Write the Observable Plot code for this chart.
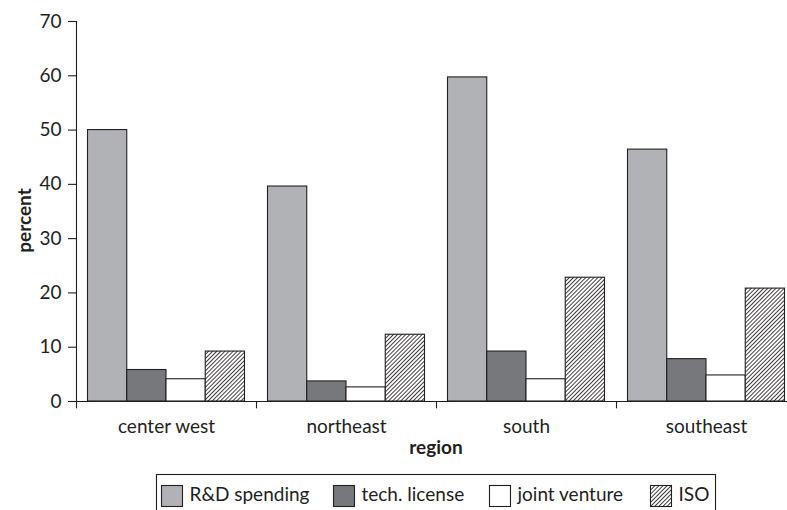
<!DOCTYPE html>
<html>
<head>
<meta charset="utf-8">
<script src="https://cdn.jsdelivr.net/npm/d3@7"></script>
<script src="https://cdn.jsdelivr.net/npm/@observablehq/plot@0.6"></script>
<style>
  html, body { margin: 0; padding: 0; background: #fff; }
  #chart svg { display: block; }
</style>
</head>
<body>
<div id="chart"></div>
<script>
// ---- data ----
const regions = ["center west", "northeast", "south", "southeast"];
const series = ["R&D spending", "tech. license", "joint venture", "ISO"];
const rdSpending = [50.0, 39.6, 59.7, 46.4];
const techLicense = [5.8, 3.7, 9.2, 7.8];
const jointVenture = [4.1, 2.6, 4.1, 4.8];
const iso = [9.2, 12.3, 22.8, 20.8];
const yTicks = [0, 10, 20, 30, 40, 50, 60, 70];

// ---- styling ----
const ink = "#231f20";
const fills = ["#b1b2b6", "#77787c", "#ffffff", "url(#hatch)"];
const font = "Lato, 'Open Sans', sans-serif";
const fs = 19;

const W = 787, H = 470;
const mLeft = 76, mTop = 21, mBottom = 69;
const band = 180;             // width of each region band
const padOuter = 11.5;        // gap between band edge and first bar
const barW = (band - 2 * padOuter) / 4;

const valuesBySeries = [rdSpending, techLicense, jointVenture, iso];
const rows = series.map((s, i) => regions.map((r, j) => ({region: r, series: s, value: valuesBySeries[i][j]})));

const barMarks = rows.map((data, i) => Plot.barY(data, {
  x: "region",
  y: "value",
  fill: fills[i],
  stroke: ink,
  strokeWidth: 1.1,
  insetLeft: padOuter + i * barW,
  insetRight: band - padOuter - (i + 1) * barW
}));

const svg = Plot.plot({
  width: W,
  height: H,
  marginLeft: mLeft,
  marginTop: mTop,
  marginBottom: mBottom,
  marginRight: 0,
  style: {fontFamily: font, fontSize: fs + "px", color: ink, background: "#fff"},
  x: {domain: regions, range: [mLeft, mLeft + band * regions.length], padding: 0, label: null},
  y: {domain: [0, 70], label: null},
  marks: [
    ...barMarks,
    Plot.ruleY([0], {stroke: ink, strokeWidth: 1.1}),
    Plot.frame({anchor: "left", stroke: ink, strokeWidth: 1.1}),
    // x ticks at band boundaries
    Plot.ruleX(regions, {x: d => d, dx: -band / 2, y1: 0, y2: -1.35, stroke: ink, strokeWidth: 1.1}),
    Plot.axisY({ticks: yTicks, tickSize: 8, tickPadding: 7, stroke: ink, strokeWidth: 1.1, strokeOpacity: 1, label: null, fontSize: fs, fill: ink}),
    Plot.axisX({tickSize: 0, tickPadding: 17.5, label: null, fontSize: fs, fill: ink}),
    Plot.text(["percent"], {frameAnchor: "left", textAnchor: "middle", lineAnchor: "middle", rotate: -90, dx: -52, dy: 9, fontWeight: "bold", fontSize: fs, fill: ink}),
    Plot.text(["region"], {frameAnchor: "bottom", textAnchor: "middle", lineAnchor: "middle", dx: 4, dy: 46, fontWeight: "bold", fontSize: fs, fill: ink})
  ]
});

// hatch pattern
function addHatch(defsSel, id) {
  const s = 2.9;
  const p = defsSel.append("pattern")
    .attr("id", id)
    .attr("patternUnits", "userSpaceOnUse")
    .attr("width", s).attr("height", s)
    .attr("patternTransform", "rotate(45)");
  p.append("rect").attr("width", s).attr("height", s).attr("fill", "#fff");
  p.append("line").attr("x1", s / 2).attr("y1", -1).attr("x2", s / 2).attr("y2", s + 1)
    .attr("stroke", ink).attr("stroke-width", 0.85);
}
addHatch(d3.select(svg).insert("defs", ":first-child"), "hatch");

document.getElementById("chart").appendChild(svg);

// ---- legend (below the plot) ----
const lg = d3.select("#chart").append("svg")
  .attr("width", W).attr("height", 60)
  .style("display", "block")
  .style("font-family", font).style("font-size", "19px");
addHatch(lg.append("defs"), "hatch-legend");
const boxLeft = 156, boxTop = 4, boxRight = 715;
const swatchX = [161.5, 333.5, 489.5, 650.5];
lg.append("rect")
  .attr("x", boxLeft + 0.5).attr("y", boxTop + 0.5)
  .attr("width", boxRight - boxLeft).attr("height", 56)
  .attr("fill", "none").attr("stroke", ink).attr("stroke-width", 1.1);
series.forEach((s, i) => {
  lg.append("rect")
    .attr("x", swatchX[i]).attr("y", 15.5)
    .attr("width", 21).attr("height", 21)
    .attr("fill", i === 3 ? "url(#hatch-legend)" : fills[i])
    .attr("stroke", ink).attr("stroke-width", 1.1);
  lg.append("text")
    .attr("x", swatchX[i] + 28).attr("y", 31)
    .attr("fill", ink)
    .text(s);
});
</script>
</body>
</html>
